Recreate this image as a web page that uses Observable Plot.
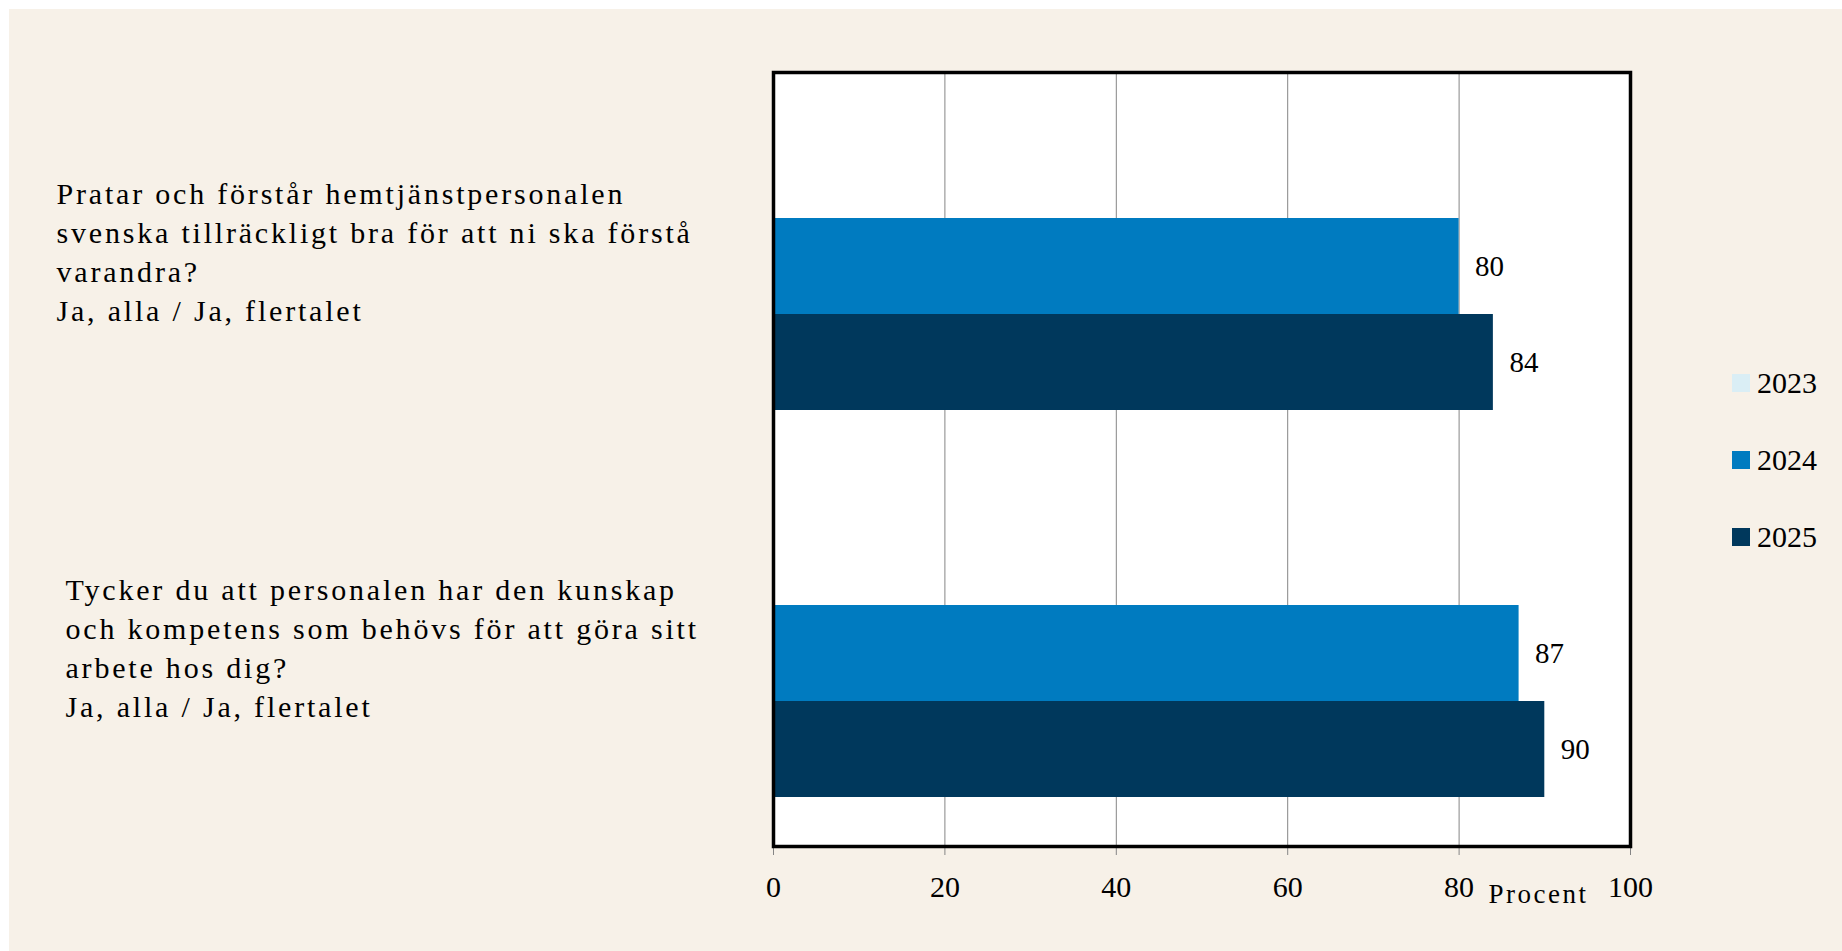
<!DOCTYPE html>
<html>
<head>
<meta charset="utf-8">
<script src="https://cdn.jsdelivr.net/npm/d3@7"></script>
<script src="https://cdn.jsdelivr.net/npm/@observablehq/plot@0.6"></script>
<style>
  html, body { margin: 0; padding: 0; background: #ffffff; }
  #wrap { position: absolute; left: 9px; top: 9px; width: 1833px; height: 942px; background: #F7F1E8; }
  #wrap svg { position: absolute; left: 0; top: 0; }
  g[aria-description="question"] text { letter-spacing: 2.8px; }
  g[aria-description="unit"] text { letter-spacing: 2.5px; }
  .legend { position: absolute; left: 1723px; font-family: "Liberation Serif", serif; font-size: 30px; color: #000; display: flex; align-items: center; height: 30px; }
  .legend .sw { width: 18px; height: 18px; margin-right: 7px; }
</style>
</head>
<body>
<div id="wrap"></div>
<script>
// ---- data ----
const questions = [
  "Pratar och förstår hemtjänstpersonalen\nsvenska tillräckligt bra för att ni ska förstå\nvarandra?\nJa, alla / Ja, flertalet",
  "Tycker du att personalen har den kunskap\noch kompetens som behövs för att göra sitt\narbete hos dig?\nJa, alla / Ja, flertalet"
];
const years = ["2023", "2024", "2025"];
const values2023 = [null, null];
const values2024 = [80, 87];
const values2025 = [84, 90];
const xTicks = [0, 20, 40, 60, 80, 100];
const axisLabel = "Procent";
const colors = ["#DAEEF5", "#007BC0", "#00385C"];

const series = {"2023": values2023, "2024": values2024, "2025": values2025};
const rows = [];
for (const yr of years) {
  questions.forEach((q, i) => {
    const v = series[yr][i];
    if (v != null) rows.push({question: q, year: yr, value: v});
  });
}

const chart = Plot.plot({
  width: 1833,
  height: 942,
  marginLeft: 764,
  marginRight: 212,
  marginTop: 63,
  marginBottom: 105,
  style: {fontFamily: "Liberation Serif, Times New Roman, serif", fontSize: "30px", background: "transparent", color: "black"},
  x: {domain: [0, 100], axis: null},
  y: {domain: years, axis: null, paddingInner: 0, paddingOuter: 0.5},
  fy: {domain: questions, axis: null, padding: 0},
  color: {domain: years, range: colors},
  marks: [
    Plot.frame({fill: "white", stroke: null, facet: "super"}),
    Plot.ruleX(xTicks, {x: d => d, stroke: "#858585", strokeWidth: 1}),
    Plot.barX(rows, {x: "value", y: "year", fy: "question", fill: "year"}),
    Plot.text(rows, {x: "value", y: "year", fy: "question", text: d => String(d.value), textAnchor: "start", dx: 16, fontSize: 29, fill: "black"}),
    Plot.text([questions[0]], {fy: d => d, text: d => d, frameAnchor: "left", textAnchor: "start", lineAnchor: "middle", lineHeight: 1.3, dx: -717, dy: -16, fontSize: 30, fill: "black", ariaDescription: "question"}),
    Plot.text([questions[1]], {fy: d => d, text: d => d, frameAnchor: "left", textAnchor: "start", lineAnchor: "middle", lineHeight: 1.3, dx: -708, dy: -7, fontSize: 30, fill: "black", ariaDescription: "question"}),
    Plot.axisX(xTicks, {anchor: "bottom", tickSize: 9, tickPadding: 20, stroke: "#858585", fill: "black", fontSize: 30, label: null}),
    Plot.frame({stroke: "black", strokeWidth: 3.5, facet: "super"}),
    Plot.text([axisLabel], {text: d => d, frameAnchor: "bottom-right", textAnchor: "end", lineAnchor: "top", dx: -42, dy: 37, fontSize: 27, fill: "black", facet: "super", ariaDescription: "unit"})
  ]
});
document.getElementById("wrap").appendChild(chart);

// legend
years.forEach((yr, i) => {
  const row = document.createElement("div");
  row.className = "legend";
  row.style.top = (359 + i * 77) + "px";
  const sw = document.createElement("span");
  sw.className = "sw";
  sw.style.background = colors[i];
  const t = document.createElement("span");
  t.textContent = yr;
  row.appendChild(sw); row.appendChild(t);
  document.getElementById("wrap").appendChild(row);
});
</script>
</body>
</html>
